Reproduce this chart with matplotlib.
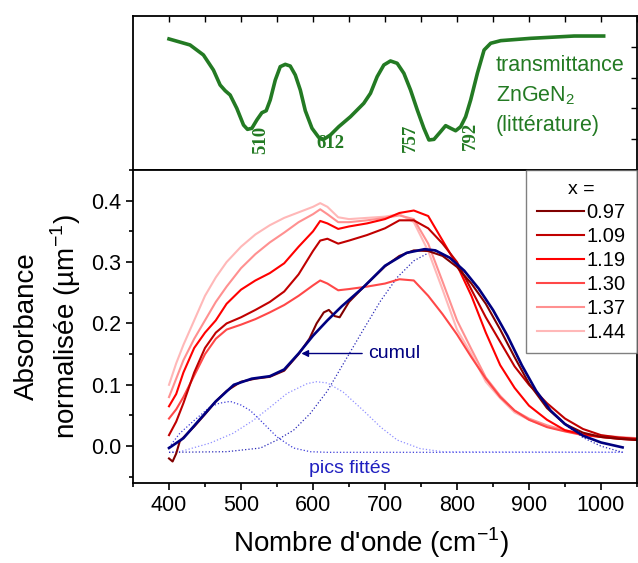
import matplotlib
matplotlib.use('Agg')
import matplotlib.pyplot as plt

plt.rcParams['font.family'] = ['Liberation Sans', 'DejaVu Sans']
plt.rcParams['mathtext.fontset'] = 'custom'
plt.rcParams['mathtext.rm'] = 'Liberation Sans'

# --- top panel : literature transmittance of ZnGeN2 (arb. units)
wn_lit = [400.0, 429.2, 447.8, 461.7, 471.0, 478.0, 484.9, 494.2, 503.5, 509.0,
          515.1, 522.0, 529.0, 535.0, 540.6, 547.6, 554.5, 561.5, 568.4, 575.4,
          582.4, 589.3, 598.6, 607.9, 614.8, 624.1, 635.7, 652.0, 670.5, 679.8,
          689.1, 698.4, 707.6, 716.9, 726.2, 735.5, 744.8, 754.0, 761.0, 768.0,
          777.2, 784.2, 791.2, 798.1, 805.1, 812.0, 819.0, 828.3, 837.6, 846.8,
          860.8, 902.5, 962.8, 1003.7]
trans_lit = [85.1, 81.2, 74.7, 64.9, 55.2, 51.5, 48.7, 40.0, 29.2, 26.4,
             27.1, 32.5, 37.2, 38.5, 45.5, 58.4, 67.1, 68.6, 67.5, 61.7,
             51.9, 38.5, 27.1, 21.2, 19.9, 22.7, 28.1, 34.6, 43.3, 49.8,
             60.6, 68.2, 70.8, 69.3, 62.8, 51.9, 39.0, 27.1, 19.5, 19.9,
             24.9, 28.8, 27.1, 25.5, 28.1, 34.6, 45.5, 62.8, 77.9, 82.3,
             84.0, 85.5, 87.0, 87.0]
peak_labels = ['510', '612', '757', '792']

# --- measured spectra
wn = [400, 410, 420, 435, 450, 465, 480, 500, 520, 540, 560, 580, 600, 610,
      620, 635, 650, 675, 700, 720, 740, 760, 780, 800, 820, 840, 860, 880,
      900, 925, 950, 975, 1000, 1025, 1050]
abs_144 = [0.100, 0.135, 0.165, 0.205, 0.245, 0.275, 0.300, 0.325, 0.345, 0.360,
           0.372, 0.381, 0.390, 0.396, 0.390, 0.373, 0.370, 0.372, 0.374, 0.378,
           0.365, 0.318, 0.255, 0.190, 0.150, 0.105, 0.078, 0.055, 0.043, 0.032,
           0.025, 0.019, 0.016, 0.014, 0.012]
abs_137 = [0.080, 0.110, 0.140, 0.175, 0.205, 0.235, 0.260, 0.290, 0.313, 0.332,
           0.348, 0.365, 0.378, 0.386, 0.378, 0.365, 0.365, 0.368, 0.372, 0.376,
           0.370, 0.330, 0.268, 0.205, 0.158, 0.112, 0.082, 0.058, 0.045, 0.034,
           0.026, 0.020, 0.017, 0.015, 0.013]
abs_130 = [0.045, 0.060, 0.080, 0.115, 0.150, 0.175, 0.190, 0.198, 0.207, 0.218,
           0.230, 0.245, 0.262, 0.270, 0.265, 0.254, 0.256, 0.260, 0.265, 0.272,
           0.270, 0.245, 0.215, 0.182, 0.145, 0.110, 0.080, 0.058, 0.043, 0.031,
           0.024, 0.018, 0.015, 0.013, 0.011]
abs_119 = [0.065, 0.085, 0.120, 0.160, 0.185, 0.205, 0.232, 0.255, 0.270, 0.282,
           0.298, 0.325, 0.350, 0.367, 0.363, 0.354, 0.358, 0.363, 0.370, 0.380,
           0.384, 0.375, 0.335, 0.295, 0.245, 0.185, 0.132, 0.095, 0.066, 0.043,
           0.026, 0.019, 0.015, 0.012, 0.010]
abs_109 = [0.018, 0.040, 0.070, 0.120, 0.160, 0.185, 0.200, 0.210, 0.222, 0.235,
           0.252, 0.280, 0.318, 0.335, 0.338, 0.330, 0.335, 0.344, 0.355, 0.368,
           0.368, 0.355, 0.330, 0.300, 0.255, 0.210, 0.170, 0.130, 0.100, 0.070,
           0.045, 0.028, 0.018, 0.014, 0.012]

wn_097 = [400, 405, 410, 415, 425, 435, 450, 465, 480, 500, 520, 540, 560, 580,
          595, 605, 615, 622, 630, 637, 650, 670, 700, 720, 740, 760, 780, 800,
          820, 840, 860, 880, 900, 925, 950, 975, 1000, 1025, 1050]
abs_097 = [-0.020, -0.025, -0.012, 0.008, 0.020, 0.032, 0.052, 0.073, 0.090, 0.105,
           0.110, 0.113, 0.123, 0.150, 0.175, 0.200, 0.218, 0.222, 0.212, 0.210,
           0.235, 0.259, 0.293, 0.310, 0.319, 0.318, 0.310, 0.292, 0.265, 0.232,
           0.190, 0.145, 0.102, 0.062, 0.036, 0.022, 0.015, 0.012, 0.010]

spectra = [('1.44', abs_144, '#ffb8b8'), ('1.37', abs_137, '#ff9090'),
           ('1.30', abs_130, '#ff4848'), ('1.19', abs_119, '#ff0000'),
           ('1.09', abs_109, '#c00000')]

# --- fit of x = 0.97
wn_cumul = [400, 420, 440, 465, 490, 515, 540, 560, 580, 600, 620, 640, 670, 700,
            730, 755, 770, 790, 810, 830, 850, 870, 890, 910, 930, 950, 975,
            1000, 1030]
cumul = [-0.003, 0.013, 0.040, 0.073, 0.100, 0.110, 0.114, 0.125, 0.151, 0.180,
         0.205, 0.228, 0.259, 0.294, 0.315, 0.321, 0.319, 0.307, 0.286, 0.257,
         0.222, 0.180, 0.132, 0.090, 0.058, 0.036, 0.017, 0.006, -0.002]

wn_g1 = [400, 415, 435, 457, 470, 485, 500, 513, 527, 550, 573, 596, 620, 1030]
g1 = [-0.002, 0.021, 0.042, 0.064, 0.070, 0.073, 0.067, 0.058, 0.042, 0.015,
      -0.003, -0.009, -0.010, -0.010]
wn_g2 = [400, 415, 457, 489, 517, 541, 564, 592, 605, 620, 642, 670, 694, 717,
         749, 780, 1030]
g2 = [-0.010, -0.009, 0.005, 0.021, 0.042, 0.064, 0.086, 0.102, 0.105, 0.103,
      0.088, 0.058, 0.031, 0.010, -0.004, -0.009, -0.010]
wn_g3 = [400, 480, 527, 550, 573, 596, 620, 645, 670, 694, 717, 740, 759, 772,
         790, 810, 830, 850, 870, 890, 910, 930, 950, 975, 1000, 1030]
g3 = [-0.010, -0.009, -0.003, 0.010, 0.026, 0.053, 0.090, 0.140, 0.190, 0.237,
      0.275, 0.302, 0.314, 0.318, 0.306, 0.285, 0.256, 0.221, 0.179, 0.131,
      0.089, 0.057, 0.035, 0.014, 0.000, -0.010]

green = '#237a23'
fig = plt.figure(figsize=(6.38, 5.63), dpi=100)
ax_t = fig.add_axes([133/638, 1-170/563, 504/638, 154/563])
ax = fig.add_axes([133/638, 1-483/563, 504/638, 313/563])

# top panel
ax_t.plot(wn_lit, trans_lit, color=green, lw=2.6, solid_joinstyle='round')
ax_t.set_xlim(350, 1050)
ax_t.set_ylim(0, 100)
ax_t.set_xticks(range(400, 1051, 50))
ax_t.set_yticks([20, 40, 60, 80])
ax_t.tick_params(axis='x', top=True, bottom=False, labeltop=False, labelbottom=False,
                 direction='in', length=4, width=1)
ax_t.tick_params(axis='y', left=False, right=True, labelleft=False, direction='in',
                 length=4, width=1)
for s in ax_t.spines.values():
    s.set_linewidth(1.3)
lab_pos = [(527, 19.5, 90), (624, 17, 0), (735, 20.6, 90), (819, 22, 90)]
for t, (xx, yy, rot) in zip(peak_labels, lab_pos):
    ax_t.text(xx, yy, t, rotation=rot, ha='center', va='center', color=green,
              fontsize=13.5, fontweight='bold', family='Liberation Serif')
ax_t.text(854, 68, 'transmittance', color=green, fontsize=15.5, va='center')
ax_t.text(854, 48.5, 'ZnGeN$_2$', color=green, fontsize=15.5, va='center')
ax_t.text(854, 29, '(littérature)', color=green, fontsize=15.5, va='center')

# main panel
ax.plot(wn_g1, g1, ':', color='#3c3cd8', lw=0.9)
ax.plot(wn_g2, g2, ':', color='#9090ff', lw=0.9)
ax.plot(wn_g3, g3, ':', color='#2a2ab8', lw=0.9)
handles = {}
for lbl, vals, col in spectra:
    handles[lbl], = ax.plot(wn, vals, color=col, lw=1.5, label=lbl)
handles['0.97'], = ax.plot(wn_097, abs_097, color='#800000', lw=1.5, label='0.97')
ax.plot(wn_cumul, cumul, color='#000080', lw=1.9)

ax.annotate('cumul', xy=(580, 0.151), xytext=(676, 0.151), color='#000080',
            fontsize=14, va='center',
            arrowprops=dict(arrowstyle='-|>', color='#000080', lw=1, mutation_scale=10))
ax.text(651, -0.036, 'pics fittés', color='#2020c0', fontsize=14, ha='center', va='center')

order = ['0.97', '1.09', '1.19', '1.30', '1.37', '1.44']
leg = ax.legend([handles[k] for k in order], order, title='x =', loc='upper right',
                bbox_to_anchor=(1.0, 1.0), borderaxespad=0, fontsize=14.5,
                title_fontsize=14, fancybox=False, edgecolor='#606060',
                handlelength=2.3, labelspacing=0.25, handletextpad=0.15,
                borderpad=0.55)
leg.get_frame().set_linewidth(1.0)

ax.set_xlim(350, 1050)
ax.set_ylim(-0.06, 0.45)
ax.set_xticks(range(400, 1001, 100))
ax.set_xticks(range(350, 1051, 50), minor=True)
ax.set_yticks([0.0, 0.1, 0.2, 0.3, 0.4])
ax.set_yticks([-0.05, 0.05, 0.15, 0.25, 0.35, 0.45], minor=True)
ax.set_yticklabels(['0.0', '0.1', '0.2', '0.3', '0.4'])
ax.tick_params(which='both', direction='out', labelsize=15.5, width=1.2)
ax.tick_params(which='major', length=5)
ax.tick_params(which='minor', length=3)
for s in ax.spines.values():
    s.set_linewidth(1.3)
ax.set_xlabel("Nombre d'onde (cm$^{-1}$)", fontsize=20, labelpad=8)
ax.xaxis.set_label_coords(0.472, -0.135)
ax.set_ylabel("Absorbance\nnormalisée (µm$^{-1}$)", fontsize=20, linespacing=1.3,
              labelpad=6)

fig.savefig('out.png', dpi=100)
